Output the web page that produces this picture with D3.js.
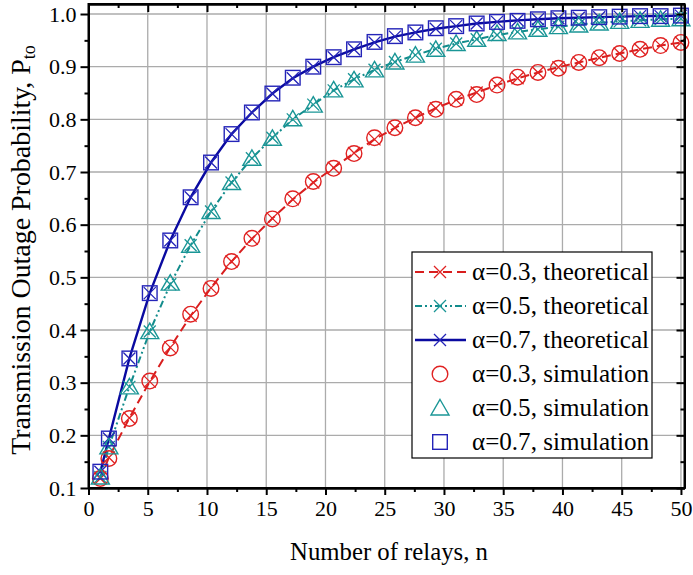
<!DOCTYPE html>
<html>
<head>
<meta charset="utf-8">
<script src="https://cdn.jsdelivr.net/npm/d3@7"></script>
<style>
  html, body { margin: 0; padding: 0; background: #fff; }
  svg { display: block; }
  svg text { font-family: "Liberation Serif", "DejaVu Serif", serif !important; fill: #000; }
</style>
</head>
<body>
<svg id="chart" width="693" height="575"></svg>
<script>
// ---------- data ----------
const relays = [1, 1.72, 3.45, 5.17, 6.9, 8.62, 10.34, 12.07, 13.79, 15.52, 17.24, 18.97, 20.69, 22.41, 24.14,
                25.86, 27.59, 29.31, 31.03, 32.76, 34.48, 36.21, 37.93, 39.66, 41.38, 43.1, 44.83, 46.55, 48.28, 50];

const theory03 = [0.118, 0.158, 0.233, 0.302, 0.367, 0.427, 0.480, 0.530, 0.573, 0.612, 0.648, 0.680, 0.708, 0.736, 0.762,
                  0.784, 0.803, 0.821, 0.837, 0.851, 0.865, 0.878, 0.889, 0.899, 0.908, 0.917, 0.925, 0.933, 0.940, 0.946];
const sim03    = [0.118, 0.156, 0.232, 0.303, 0.366, 0.430, 0.479, 0.530, 0.574, 0.611, 0.649, 0.682, 0.707, 0.735, 0.765,
                  0.784, 0.803, 0.819, 0.838, 0.847, 0.865, 0.880, 0.889, 0.897, 0.908, 0.917, 0.925, 0.933, 0.940, 0.946];

const theory05 = [0.121, 0.178, 0.292, 0.397, 0.487, 0.561, 0.625, 0.680, 0.726, 0.765, 0.800, 0.828, 0.855, 0.876, 0.894,
                  0.909, 0.922, 0.934, 0.944, 0.952, 0.960, 0.966, 0.971, 0.976, 0.980, 0.983, 0.986, 0.988, 0.990, 0.991];
const sim05    = [0.121, 0.178, 0.292, 0.397, 0.489, 0.561, 0.625, 0.680, 0.726, 0.764, 0.801, 0.827, 0.856, 0.875, 0.894,
                  0.909, 0.922, 0.933, 0.944, 0.952, 0.963, 0.966, 0.971, 0.976, 0.979, 0.983, 0.986, 0.988, 0.990, 0.991];

const theory07 = [0.131, 0.194, 0.346, 0.470, 0.570, 0.652, 0.718, 0.772, 0.813, 0.849, 0.878, 0.900, 0.918, 0.933, 0.946,
                  0.957, 0.965, 0.972, 0.977, 0.982, 0.985, 0.988, 0.990, 0.992, 0.993, 0.994, 0.995, 0.996, 0.996, 0.997];
const sim07    = [0.131, 0.194, 0.346, 0.470, 0.570, 0.652, 0.718, 0.772, 0.813, 0.849, 0.879, 0.900, 0.918, 0.933, 0.947,
                  0.958, 0.965, 0.973, 0.977, 0.982, 0.985, 0.987, 0.990, 0.992, 0.993, 0.994, 0.995, 0.996, 0.996, 0.997];

const xTickValues = [0, 5, 10, 15, 20, 25, 30, 35, 40, 45, 50];
const yTickValues = [0.1, 0.2, 0.3, 0.4, 0.5, 0.6, 0.7, 0.8, 0.9, 1.0];

const legendLabels = ["α=0.3, theoretical", "α=0.5, theoretical", "α=0.7, theoretical",
                      "α=0.3, simulation", "α=0.5, simulation", "α=0.7, simulation"];

// ---------- layout ----------
const FONT = '"Liberation Serif", "DejaVu Serif", serif';
const svg = d3.select("#chart");
const pL = 88.5, pR = 684.5, pT = 4, pB = 488;
const x = d3.scaleLinear().domain([0, 50.3]).range([pL, pR]);
const y = d3.scaleLinear().domain([0.1, 1.019]).range([pB, pT]);

const C = {
  red: "#d81e1e", redM: "#e02222",
  teal: "#128c8c", tealM: "#1a9696",
  blue: "#0a0aa0", blueM: "#2424b8"
};

// grid
const grid = svg.append("g").attr("stroke", "#ababab").attr("stroke-width", 1.3);
grid.selectAll(".gx").data(xTickValues.filter(d => d > 0)).enter().append("line")
  .attr("x1", d => x(d)).attr("x2", d => x(d)).attr("y1", pT).attr("y2", pB);
grid.selectAll(".gy").data(yTickValues.filter(d => d > 0.1)).enter().append("line")
  .attr("y1", d => y(d)).attr("y2", d => y(d)).attr("x1", pL).attr("x2", pR);

const series = [
  {theory: theory03, sim: sim03, line: C.red, mark: C.redM, dash: "9,5", shape: "circle", lw: 2},
  {theory: theory05, sim: sim05, line: C.teal, mark: C.tealM, dash: "7,3,2,3,2,3", shape: "triangle", lw: 2},
  {theory: theory07, sim: sim07, line: C.blue, mark: C.blueM, dash: null, shape: "square", lw: 2.4}
];

const lineGen = d3.line().x(d => x(d[0])).y(d => y(d[1]));

function drawCross(g, cx, cy, color, s) {
  g.append("path")
    .attr("d", `M${cx - s},${cy - s}L${cx + s},${cy + s}M${cx - s},${cy + s}L${cx + s},${cy - s}`)
    .attr("stroke", color).attr("stroke-width", 1.3).attr("fill", "none");
}
function drawShape(g, shape, cx, cy, color) {
  if (shape === "circle") {
    g.append("circle").attr("cx", cx).attr("cy", cy).attr("r", 7.8)
      .attr("fill", "none").attr("stroke", color).attr("stroke-width", 1.4);
  } else if (shape === "square") {
    g.append("rect").attr("x", cx - 7.3).attr("y", cy - 7.3).attr("width", 14.6).attr("height", 14.6)
      .attr("fill", "none").attr("stroke", color).attr("stroke-width", 1.4);
  } else {
    g.append("path")
      .attr("d", `M${cx},${cy - 8.5}L${cx + 9},${cy + 7}L${cx - 9},${cy + 7}Z`)
      .attr("fill", "none").attr("stroke", color).attr("stroke-width", 1.4);
  }
}

const plot = svg.append("g");
series.forEach(s => {
  const pts = relays.map((r, i) => [r, s.theory[i]]);
  plot.append("path").attr("d", lineGen(pts)).attr("fill", "none")
    .attr("stroke", s.line).attr("stroke-width", s.lw)
    .attr("stroke-dasharray", s.dash);
});
series.forEach(s => {
  relays.forEach((r, i) => drawCross(plot, x(r), y(s.theory[i]), s.mark, 6));
});
series.forEach(s => {
  relays.forEach((r, i) => drawShape(plot, s.shape, x(r), y(s.sim[i]), s.mark));
});

// axes
const minorX = d3.range(2.5, 50.1, 5);
const minorY = d3.range(0.15, 1.0, 0.1);

function styleAxis(g) {
  g.attr("font-family", FONT);
  g.select(".domain").attr("stroke", "#000").attr("stroke-width", 2);
  g.selectAll(".tick line").attr("stroke", "#000").attr("stroke-width", 2);
  g.selectAll("text").style("font-family", FONT).style("font-size", "22px").attr("fill", "#000");
}

svg.append("g").attr("transform", `translate(0,${pB})`)
  .call(d3.axisBottom(x).tickValues(xTickValues).tickSize(7).tickSizeOuter(0).tickPadding(5).tickFormat(d3.format("d")))
  .call(styleAxis);
svg.append("g").attr("transform", `translate(0,${pB})`)
  .call(d3.axisBottom(x).tickValues(minorX).tickSize(4).tickSizeOuter(0).tickFormat(""))
  .call(styleAxis);

svg.append("g").attr("transform", `translate(${pL},0)`)
  .call(d3.axisLeft(y).tickValues(yTickValues).tickSize(8).tickSizeOuter(0).tickPadding(4).tickFormat(d3.format(".1f")))
  .call(styleAxis);
svg.append("g").attr("transform", `translate(${pL},0)`)
  .call(d3.axisLeft(y).tickValues(minorY).tickSize(4).tickSizeOuter(0).tickFormat(""))
  .call(styleAxis);

svg.append("g").attr("transform", `translate(0,${pT})`)
  .call(d3.axisTop(x).tickValues(xTickValues).tickSize(-8).tickSizeOuter(0).tickFormat(""))
  .call(styleAxis);
svg.append("g").attr("transform", `translate(0,${pT})`)
  .call(d3.axisTop(x).tickValues(minorX).tickSize(-4).tickSizeOuter(0).tickFormat(""))
  .call(styleAxis);
svg.append("g").attr("transform", `translate(${pR},0)`)
  .call(d3.axisRight(y).tickValues(yTickValues).tickSize(-8).tickSizeOuter(0).tickFormat(""))
  .call(styleAxis);
svg.append("g").attr("transform", `translate(${pR},0)`)
  .call(d3.axisRight(y).tickValues(minorY).tickSize(-4).tickSizeOuter(0).tickFormat(""))
  .call(styleAxis);

// frame
svg.append("rect").attr("x", pL).attr("y", pT).attr("width", pR - pL).attr("height", pB - pT)
  .attr("fill", "none").attr("stroke", "#000").attr("stroke-width", 2);

// fit a text element's size so its width matches a target
function fitText(sel, target, base) {
  const len = sel.node().getComputedTextLength();
  if (len > 0) sel.style("font-size", (base * target / len).toFixed(2) + "px");
}

// axis labels
const xl = svg.append("text").attr("x", 389).attr("y", 560).attr("text-anchor", "middle")
  .style("font-family", FONT).style("font-size", "24px").text("Number of relays, n");
fitText(xl, 198, 24);

const yl = svg.append("text").attr("transform", `translate(30,250) rotate(-90)`)
  .attr("text-anchor", "middle").style("font-family", FONT).style("font-size", "24px");
yl.append("tspan").text("Transmission Outage Probability, P");
yl.append("tspan").attr("dy", 5).style("font-size", "0.65em").text("to");
fitText(yl, 410, 24);

// legend
const lg = svg.append("g");
lg.append("rect").attr("x", 412).attr("y", 252).attr("width", 240).attr("height", 206)
  .attr("fill", "#fff").attr("stroke", "#000").attr("stroke-width", 1.2);
const rowY = [272, 306, 340, 374, 408, 442];
const legTexts = [];
legendLabels.forEach((lab, i) => {
  const cy = rowY[i];
  const s = series[i % 3];
  if (i < 3) {
    lg.append("line").attr("x1", 415).attr("x2", 466).attr("y1", cy).attr("y2", cy)
      .attr("stroke", s.line).attr("stroke-width", s.lw).attr("stroke-dasharray", s.dash);
    drawCross(lg, 440, cy, s.mark, 6);
  } else {
    drawShape(lg, s.shape, 440, cy, s.mark);
  }
  legTexts.push(lg.append("text").attr("x", 472).attr("y", cy + 8)
    .style("font-family", FONT).style("font-size", "24px").text(lab));
});
// common size for legend from the first label width
const l0 = legTexts[0].node().getComputedTextLength();
const legSize = (24 * 177 / l0).toFixed(2) + "px";
legTexts.forEach(t => t.style("font-size", legSize));
</script>
</body>
</html>
